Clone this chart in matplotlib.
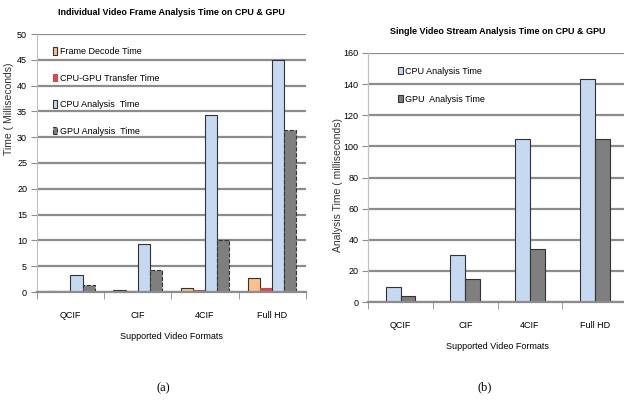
import matplotlib
matplotlib.use('Agg')
import matplotlib.pyplot as plt
import numpy as np

formats = ['QCIF', 'CIF', '4CIF', 'Full HD']

# (a) tiempo por frame (ms)
decode_a = [0.1, 0.4, 0.8, 2.8]
transfer_a = [0.05, 0.1, 0.4, 0.7]
cpu_a = [3.2, 9.3, 34.3, 45.0]
gpu_a = [1.3, 4.2, 10.0, 31.3]

# (b) tiempo por stream (ms)
cpu_b = [9.5, 30.0, 105.0, 143.0]
gpu_b = [4.0, 15.0, 34.0, 105.0]

plt.rcParams['font.family'] = ['Liberation Sans', 'DejaVu Sans']

c_decode = '#FAC08F'
c_transfer = '#E0475A'
c_cpu = '#C6D9F1'
c_gpu = '#7F7F7F'
grid_c = '#8C8C8C'


def estilo(ax, ymax, ystep):
  ax.set_ylim(0, ymax)
  ax.set_yticks(np.arange(0, ymax + 1, ystep))
  ax.set_xlim(-0.5, len(formats) - 0.5)
  ax.set_xticks(np.arange(len(formats)))
  ax.set_xticklabels(formats, fontsize=6.5)
  ax.set_xticks(np.arange(len(formats) + 1) - 0.5, minor=True)
  ax.tick_params(axis='x', which='major', length=0, pad=14)
  ax.tick_params(axis='x', which='minor', length=5, color=grid_c)
  ax.tick_params(axis='y', length=4, color=grid_c, labelsize=6.5, pad=3)
  ax.yaxis.grid(True, color=grid_c, linewidth=1.6)
  ax.set_axisbelow(True)
  for s in ['top', 'right']:
    ax.spines[s].set_visible(False)
  ax.spines['left'].set_color('#BFBFBF')
  ax.spines['bottom'].set_color(grid_c)
  ax.spines['bottom'].set_linewidth(1.6)
  ax.set_xlabel('Supported Video Formats', fontsize=6.5, labelpad=8)


fig = plt.figure(figsize=(6.24, 4.0), dpi=100)

# ---- (a)
ax1 = fig.add_axes([0.059, 0.27, 0.431, 0.645])
x = np.arange(len(formats))
w = 0.18
ax1.bar(x - 1.5 * w, decode_a, w, color=c_decode, edgecolor='#333333', linewidth=0.8, label='Frame Decode Time')
ax1.bar(x - 0.5 * w, transfer_a, w, color=c_transfer, edgecolor='#C0504D', linewidth=0.8, label='CPU-GPU Transfer Time')
ax1.bar(x + 0.5 * w, cpu_a, w, color=c_cpu, edgecolor='#333333', linewidth=0.8, label='CPU Analysis  Time')
ax1.bar(x + 1.5 * w, gpu_a, w, color=c_gpu, edgecolor='#333333', linewidth=0.8, linestyle='--', label='GPU Analysis  Time')
estilo(ax1, 50, 5)
ax1.set_ylabel('Time ( Milliseconds)', fontsize=7.5, color='#333333')
ax1.yaxis.set_label_coords(-0.085, 0.71)
ax1.set_title('Individual Video Frame Analysis Time on CPU & GPU', fontsize=6.5, fontweight='bold', pad=14)
ax1.legend(loc='upper left', bbox_to_anchor=(0.06, 0.95), frameon=False, fontsize=6.5,
           borderpad=0, borderaxespad=0,
           handlelength=0.5, handleheight=0.9, handletextpad=0.3, labelspacing=1.95)

# ---- (b)
ax2 = fig.add_axes([0.59, 0.245, 0.415, 0.6225])
w2 = 0.23
ax2.bar(x - 0.5 * w2, cpu_b, w2, color=c_cpu, edgecolor='#333333', linewidth=0.8, label='CPU Analysis Time')
ax2.bar(x + 0.5 * w2, gpu_b, w2, color=c_gpu, edgecolor='#333333', linewidth=0.8, label='GPU  Analysis Time')
estilo(ax2, 160, 20)
ax2.set_ylabel('Analysis Time ( milliseconds)', fontsize=7.5, color='#333333')
ax2.yaxis.set_label_coords(-0.097, 0.47)
ax2.set_title('Single Video Stream Analysis Time on CPU & GPU', fontsize=6.5, fontweight='bold', pad=14)
ax2.legend(loc='upper left', bbox_to_anchor=(0.116, 0.945), frameon=False, fontsize=6.5,
           borderpad=0, borderaxespad=0,
           handlelength=0.5, handleheight=0.9, handletextpad=0.3, labelspacing=2.1)

fig.text(163 / 624, 1 - 388 / 400, '(a)', fontsize=9, ha='center', va='center', family='Liberation Serif')
fig.text(485 / 624, 1 - 387 / 400, '(b)', fontsize=9, ha='center', va='center', family='Liberation Serif')

plt.savefig('out.png', dpi=100)
